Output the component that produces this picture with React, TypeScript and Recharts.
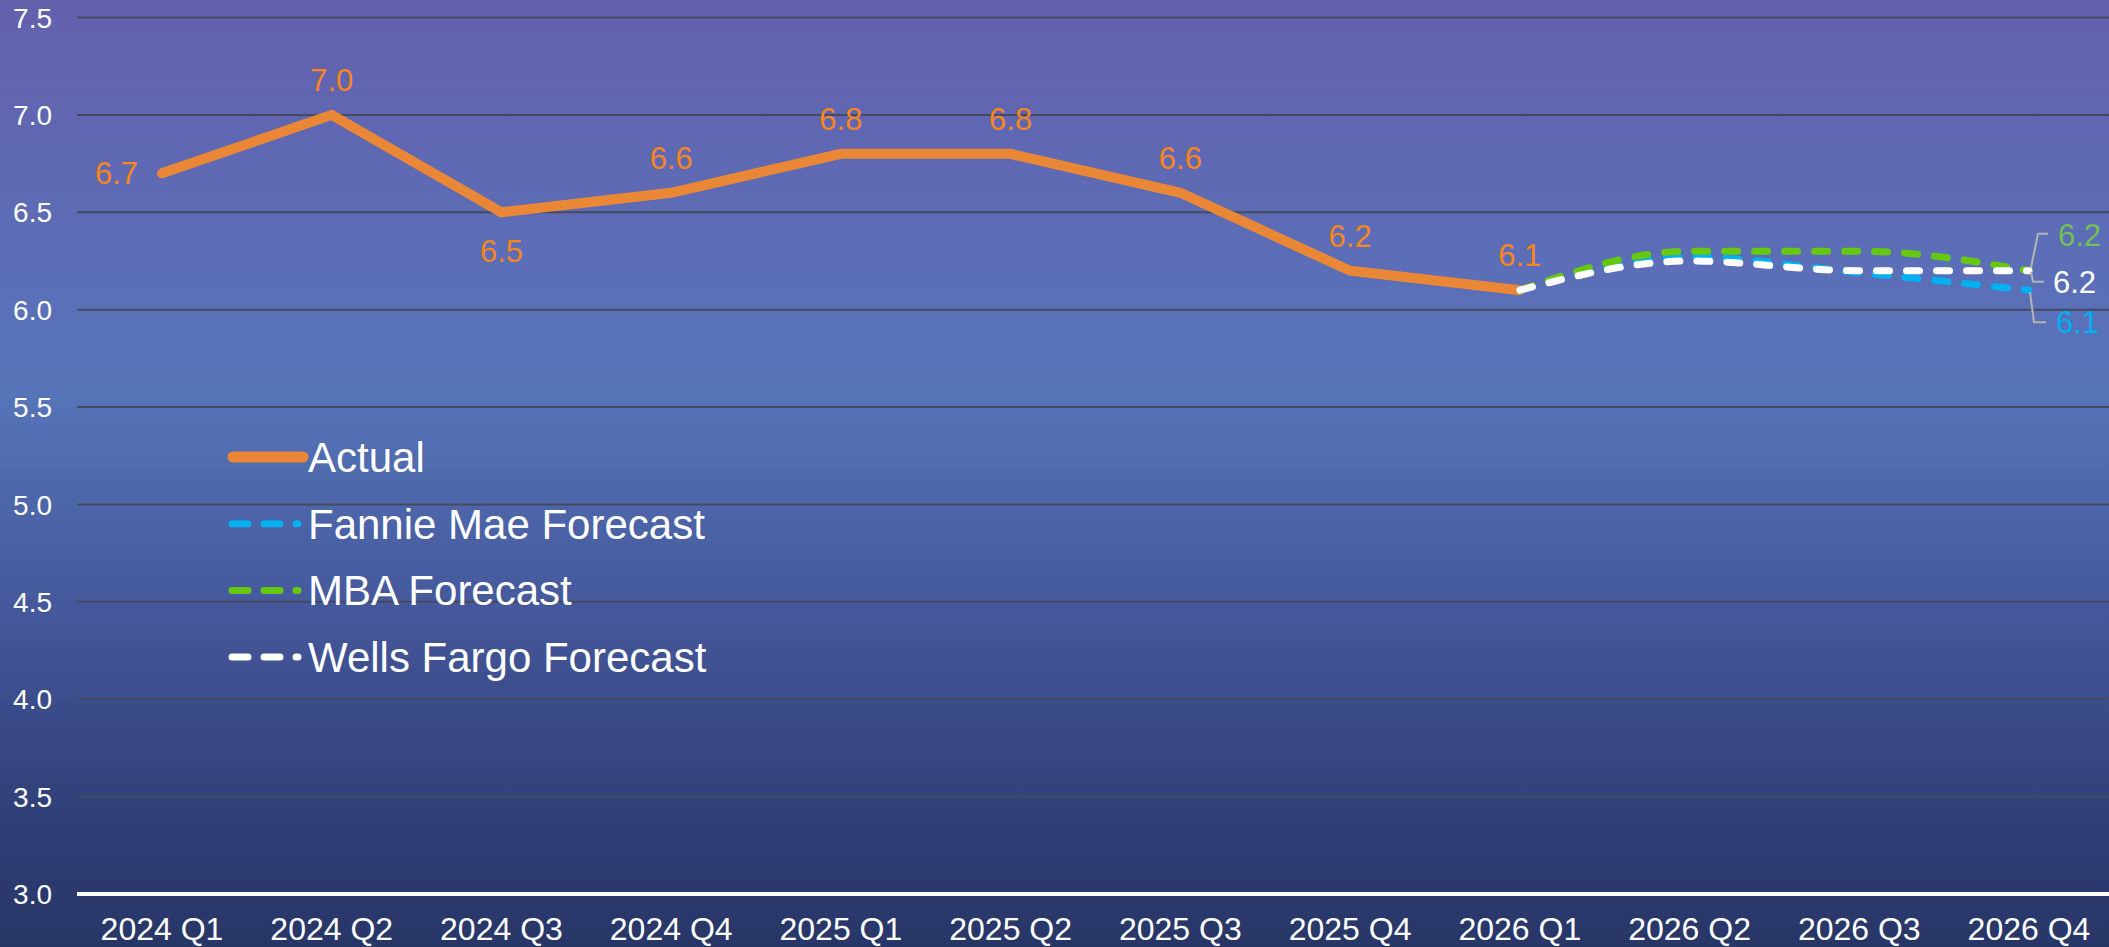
import React from 'react';
import { LineChart, Line, XAxis, YAxis, CartesianGrid, Legend, LabelList } from 'recharts';

const categories = ['2024 Q1', '2024 Q2', '2024 Q3', '2024 Q4', '2025 Q1', '2025 Q2', '2025 Q3', '2025 Q4', '2026 Q1', '2026 Q2', '2026 Q3', '2026 Q4'];
const actual = [6.7, 7.0, 6.5, 6.6, 6.8, 6.8, 6.6, 6.2, 6.1, null, null, null];
const fannieMae = [null, null, null, null, null, null, null, null, 6.1, 6.27, 6.19, 6.1];
const mba = [null, null, null, null, null, null, null, null, 6.1, 6.3, 6.3, 6.2];
const wellsFargo = [null, null, null, null, null, null, null, null, 6.1, 6.25, 6.2, 6.2];
const yTicks = [3.0, 3.5, 4.0, 4.5, 5.0, 5.5, 6.0, 6.5, 7.0, 7.5];
const actualLabelSide = ['left', 'top', 'bottom', 'top', 'top', 'top', 'top', 'top', 'top'];

const FONT = '"Liberation Sans", Arial, Helvetica, sans-serif';
const ORANGE = '#EA8737';
const ORANGE_TEXT = '#F7861E';
const BLUE = '#00B0F0';
const GREEN = '#66C811';
const GREEN_TEXT = '#72BF55';
const WHITE = '#FFFFFF';
const LEADER = '#B4B4B4';

const chartData = categories.map((c, i) => ({
  quarter: c,
  actual: actual[i],
  fannie: fannieMae[i],
  mba: mba[i],
  wells: wellsFargo[i],
}));

const lastIndex = categories.length - 1;

const XTick = (props: any) => {
  const { x, y, payload } = props;
  return (
    <text x={x} y={y + 46} textAnchor="middle" fill="#fff" fontSize={32} fontFamily={FONT}>
      {payload.value}
    </text>
  );
};

const YTick = (props: any) => {
  const { y, payload } = props;
  return (
    <text x={52} y={y} dy="0.36em" textAnchor="end" fill="#fff" fontSize={28} fontFamily={FONT}>
      {Number(payload.value).toFixed(1)}
    </text>
  );
};

const ActualLabel = (props: any) => {
  const { x, y, value, index } = props;
  if (value == null) return null;
  const side = actualLabelSide[index];
  const text = Number(value).toFixed(1);
  if (side === 'left') {
    return (
      <text x={x - 24} y={y + 11} textAnchor="end" fill={ORANGE_TEXT} fontSize={31} fontFamily={FONT}>{text}</text>
    );
  }
  if (side === 'bottom') {
    return (
      <text x={x} y={y + 50} textAnchor="middle" fill={ORANGE_TEXT} fontSize={31} fontFamily={FONT}>{text}</text>
    );
  }
  return (
    <text x={x} y={y - 24} textAnchor="middle" fill={ORANGE_TEXT} fontSize={31} fontFamily={FONT}>{text}</text>
  );
};

// end-of-line labels with small leader lines
const makeEndLabel = (kind: 'mba' | 'wells' | 'fannie') => (props: any) => {
  const { x, y, value, index } = props;
  if (index !== lastIndex || value == null) return null;
  const text = Number(value).toFixed(1);
  if (kind === 'mba') {
    return (
      <g>
        <polyline points={`${x + 2},${y - 3} ${x + 9},${y - 37} ${x + 19},${y - 37}`} fill="none" stroke={LEADER} strokeWidth={2} />
        <text x={x + 29} y={y - 25} fill={GREEN_TEXT} fontSize={31} fontFamily={FONT}>{text}</text>
      </g>
    );
  }
  if (kind === 'wells') {
    return (
      <g>
        <polyline points={`${x + 2},${y + 1} ${x + 4},${y + 11} ${x + 15},${y + 11}`} fill="none" stroke={LEADER} strokeWidth={2} />
        <text x={x + 24} y={y + 22} fill={WHITE} fontSize={31} fontFamily={FONT}>{text}</text>
      </g>
    );
  }
  return (
    <g>
      <polyline points={`${x + 1},${y + 2} ${x + 5},${y + 32} ${x + 17},${y + 32}`} fill="none" stroke={LEADER} strokeWidth={2} />
      <text x={x + 27} y={y + 43} fill={BLUE} fontSize={31} fontFamily={FONT}>{text}</text>
    </g>
  );
};

const legendItems = [
  { name: 'Actual', color: ORANGE, dashed: false },
  { name: 'Fannie Mae Forecast', color: BLUE, dashed: true },
  { name: 'MBA Forecast', color: GREEN, dashed: true },
  { name: 'Wells Fargo Forecast', color: WHITE, dashed: true },
];

const LegendContent = () => (
  <svg width={700} height={280} style={{ display: 'block', overflow: 'visible' }}>
    {legendItems.map((item, i) => {
      const cy = 30 + i * 66.7;
      return (
        <g key={item.name}>
          {item.dashed ? (
            <line x1={12} y1={cy} x2={78} y2={cy} stroke={item.color} strokeWidth={7} strokeLinecap="round" strokeDasharray="16 16" />
          ) : (
            <line x1={13} y1={cy} x2={83} y2={cy} stroke={item.color} strokeWidth={11} strokeLinecap="round" />
          )}
          <text x={88} y={cy + 15} fill="#fff" fontSize={42} fontFamily={FONT}>{item.name}</text>
        </g>
      );
    })}
  </svg>
);

const App: React.FC = () => {
  return (
    <div
      style={{
        position: 'fixed',
        left: 0,
        top: 0,
        width: 2109,
        height: 947,
        overflow: 'hidden',
        background: 'linear-gradient(to bottom, #6460AD 0%, #5B6FB8 30%, #5674B8 42%, #44579A 65%, #2E3D74 88%, #283667 100%)',
        fontFamily: FONT,
      }}
    >
      <LineChart width={2114} height={947} data={chartData} margin={{ top: 17.5, right: 0, left: 0, bottom: 0 }}>
        <CartesianGrid vertical={false} stroke="#454a5e" strokeWidth={2} />
        <XAxis
          dataKey="quarter"
          height={53}
          padding={{ left: 85, right: 85 }}
          axisLine={{ stroke: '#fff', strokeWidth: 4 }}
          tickLine={false}
          tickSize={0}
          tickMargin={0}
          interval={0}
          tick={<XTick />}
        />
        <YAxis
          width={77}
          domain={[3, 7.5]}
          ticks={yTicks}
          axisLine={false}
          tickLine={false}
          tick={<YTick />}
        />
        <Legend
          layout="horizontal"
          verticalAlign="middle"
          align="center"
          wrapperStyle={{ position: 'absolute', left: 220, top: 427, width: 700, height: 280 }}
          content={<LegendContent />}
        />
        <Line
          type="linear"
          dataKey="actual"
          name="Actual"
          stroke={ORANGE}
          strokeWidth={10}
          strokeLinecap="round"
          dot={false}
          activeDot={false}
          isAnimationActive={false}
          connectNulls={false}
        >
          <LabelList dataKey="actual" content={<ActualLabel />} />
        </Line>
        <Line
          type="monotone"
          dataKey="fannie"
          name="Fannie Mae Forecast"
          stroke={BLUE}
          strokeWidth={7}
          strokeLinecap="round"
          strokeDasharray="13 17"
          dot={false}
          activeDot={false}
          isAnimationActive={false}
        >
          <LabelList dataKey="fannie" content={makeEndLabel('fannie')} />
        </Line>
        <Line
          type="monotone"
          dataKey="mba"
          name="MBA Forecast"
          stroke={GREEN}
          strokeWidth={7}
          strokeLinecap="round"
          strokeDasharray="13 17"
          dot={false}
          activeDot={false}
          isAnimationActive={false}
        >
          <LabelList dataKey="mba" content={makeEndLabel('mba')} />
        </Line>
        <Line
          type="monotone"
          dataKey="wells"
          name="Wells Fargo Forecast"
          stroke={WHITE}
          strokeWidth={7}
          strokeLinecap="round"
          strokeDasharray="13 17"
          dot={false}
          activeDot={false}
          isAnimationActive={false}
        >
          <LabelList dataKey="wells" content={makeEndLabel('wells')} />
        </Line>
      </LineChart>
    </div>
  );
};

export default App;
